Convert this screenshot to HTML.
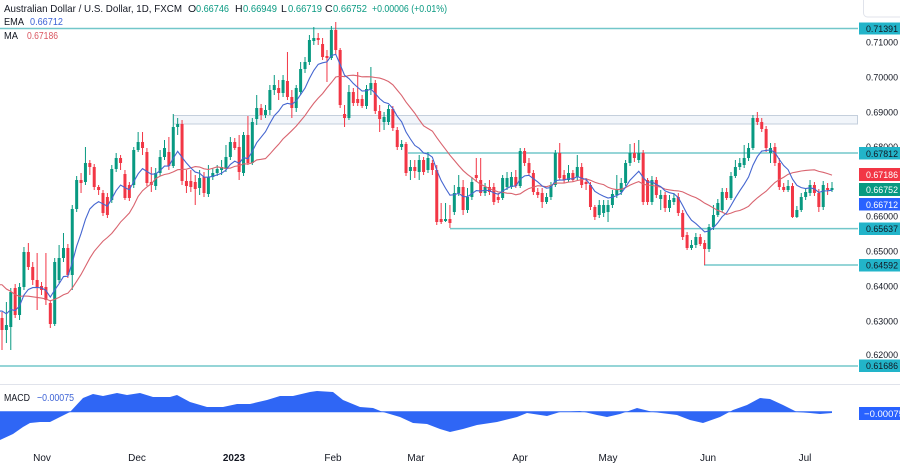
<!DOCTYPE html>
<html>
<head>
<meta charset="utf-8">
<style>
html,body{margin:0;padding:0;background:#fff;}
svg{display:block;}
text{font-family:"Liberation Sans",Arial,sans-serif;}
</style>
</head>
<body>
<svg id="s" xmlns="http://www.w3.org/2000/svg" width="900" height="465" viewBox="0 0 900 465">
<rect x="0" y="0" width="900" height="465" fill="#ffffff"/>
<!-- zone rectangle -->
<rect x="173.5" y="115.5" width="684" height="8.5" fill="#f1f5fa" stroke="#c4cfdc" stroke-width="1"/>
<!-- horizontal levels -->
<g stroke="#72c7ca" stroke-width="1.5">
<line x1="0" y1="28.5" x2="858" y2="28.5"/>
<line x1="408" y1="153" x2="858" y2="153"/>
<line x1="450" y1="228.6" x2="858" y2="228.6"/>
<line x1="704" y1="265" x2="858" y2="265"/>
<line x1="0" y1="366" x2="858" y2="366"/>
</g>
<!-- pane separator -->
<line x1="0" y1="384.5" x2="900" y2="384.5" stroke="#e0e3eb" stroke-width="1"/>
<!-- MACD area -->
<polygon fill="#2f66f5" points="0,440 13,434 23,427 30,423 40,422 50,422 60,417 70,412 83,398 93,394 103,396 117,393 127,395 140,393 153,397 170,397 177,395 190,402 207,407 223,407 237,404 250,404 267,400 280,396 293,396 310,392 317,391 333,392 343,400 360,407 373,408 383,412 400,417 413,423 427,424 440,429 450,432 463,429 477,425 497,422 517,417 527,413 547,416 560,412 580,411 597,415 607,417 620,414 637,408 653,412 677,415 690,420 703,423 720,417 733,410 747,405 760,398 770,399 783,405 797,412 810,413 820,414 832,413 832,411.7 0,411.7"/>
<line x1="0" y1="411.7" x2="832" y2="411.7" stroke="#2f66f5" stroke-width="1"/>
<g id="candles"></g>
<g id="ind"></g>

<!-- legend -->
<g font-size="10.5" fill="#131722">
<text x="4" y="12" textLength="178" lengthAdjust="spacingAndGlyphs">Australian Dollar / U.S. Dollar, 1D, FXCM</text>
<text x="188" y="12">O</text>
<text x="196" y="12" fill="#089981" textLength="33" lengthAdjust="spacingAndGlyphs">0.66746</text>
<text x="235" y="12">H</text>
<text x="243" y="12" fill="#089981" textLength="34" lengthAdjust="spacingAndGlyphs">0.66949</text>
<text x="281" y="12">L</text>
<text x="288" y="12" fill="#089981" textLength="34" lengthAdjust="spacingAndGlyphs">0.66719</text>
<text x="325" y="12">C</text>
<text x="333" y="12" fill="#089981" textLength="34" lengthAdjust="spacingAndGlyphs">0.66752</text>
<text x="372" y="12" fill="#089981" textLength="75" lengthAdjust="spacingAndGlyphs">+0.00006 (+0.01%)</text>
<text x="4" y="25" textLength="20" lengthAdjust="spacingAndGlyphs">EMA</text>
<text x="30" y="25" fill="#3d63d6" textLength="33" lengthAdjust="spacingAndGlyphs">0.66712</text>
<text x="4" y="39" textLength="14" lengthAdjust="spacingAndGlyphs">MA</text>
<text x="27" y="39" fill="#d9545e" textLength="31" lengthAdjust="spacingAndGlyphs">0.67186</text>
<text x="4" y="401" textLength="26" lengthAdjust="spacingAndGlyphs">MACD</text>
<text x="37" y="401" fill="#3d63d6" textLength="37" lengthAdjust="spacingAndGlyphs">−0.00075</text>
</g>

<!-- top-right widget -->
<rect x="863.5" y="-6" width="40" height="23" rx="4" fill="#fff" stroke="#e0e3eb"/>

<!-- right axis plain labels -->
<g font-size="9.5" fill="#131722">
<text x="866" y="45.5" textLength="32" lengthAdjust="spacingAndGlyphs">0.71000</text>
<text x="866" y="80.5" textLength="32" lengthAdjust="spacingAndGlyphs">0.70000</text>
<text x="866" y="115.5" textLength="32" lengthAdjust="spacingAndGlyphs">0.69000</text>
<text x="866" y="150" textLength="32" lengthAdjust="spacingAndGlyphs">0.68000</text>
<text x="866" y="219.5" textLength="32" lengthAdjust="spacingAndGlyphs">0.66000</text>
<text x="866" y="254.5" textLength="32" lengthAdjust="spacingAndGlyphs">0.65000</text>
<text x="866" y="289.5" textLength="32" lengthAdjust="spacingAndGlyphs">0.64000</text>
<text x="866" y="324.5" textLength="32" lengthAdjust="spacingAndGlyphs">0.63000</text>
<text x="866" y="358" textLength="32" lengthAdjust="spacingAndGlyphs">0.62000</text>
</g>
<!-- right axis boxes -->
<g font-size="9.5">
<rect x="859" y="22.5" width="41" height="12" fill="#22b4c9"/>
<text x="866" y="32" fill="#131722" textLength="32" lengthAdjust="spacingAndGlyphs">0.71391</text>
<rect x="859" y="147" width="41" height="12.5" fill="#22b4c9"/>
<text x="866" y="156.8" fill="#131722" textLength="32" lengthAdjust="spacingAndGlyphs">0.67812</text>
<rect x="859" y="168" width="41" height="13" fill="#f23645"/>
<text x="866" y="178" fill="#ffffff" textLength="32" lengthAdjust="spacingAndGlyphs">0.67186</text>
<rect x="859" y="183" width="41" height="13" fill="#089981"/>
<text x="866" y="193" fill="#ffffff" textLength="32" lengthAdjust="spacingAndGlyphs">0.66752</text>
<rect x="859" y="198" width="41" height="12.5" fill="#2962ff"/>
<text x="866" y="207.8" fill="#ffffff" textLength="32" lengthAdjust="spacingAndGlyphs">0.66712</text>
<rect x="859" y="222.5" width="41" height="12.5" fill="#22b4c9"/>
<text x="866" y="232.2" fill="#131722" textLength="32" lengthAdjust="spacingAndGlyphs">0.65637</text>
<rect x="859" y="259" width="41" height="12.5" fill="#22b4c9"/>
<text x="866" y="268.7" fill="#131722" textLength="32" lengthAdjust="spacingAndGlyphs">0.64592</text>
<rect x="859" y="359.5" width="41" height="12.5" fill="#22b4c9"/>
<text x="866" y="369.2" fill="#131722" textLength="32" lengthAdjust="spacingAndGlyphs">0.61686</text>
<rect x="859" y="407" width="41" height="13" fill="#2962ff"/>
<text x="864" y="417" fill="#ffffff" textLength="40" lengthAdjust="spacingAndGlyphs">−0.00075</text>
</g>

<!-- x axis -->
<g font-size="10" fill="#131722" text-anchor="middle">
<text x="42" y="461">Nov</text>
<text x="137" y="461">Dec</text>
<text x="234" y="461" font-weight="bold">2023</text>
<text x="333" y="461">Feb</text>
<text x="416" y="461">Mar</text>
<text x="520" y="461">Apr</text>
<text x="608" y="461">May</text>
<text x="708" y="461">Jun</text>
<text x="805" y="461">Jul</text>
</g>
</svg>
<script>
(function(){
var D=[
[0,318,330,312,350],[1,325,330,302,343],[1,292,327,288,350],[0,288,315,284,318],[1,287,315,283,320],
[1,252,287,247,290],[0,252,267,243,270],[0,267,280,262,285],[0,280,287,253,310],[0,286,290,282,295],
[0,287,300,253,305],[0,303,324,300,328],[1,262,324,258,326],[1,258,280,245,283],[1,248,258,233,262],
[0,248,275,244,278],[1,209,275,205,290],[1,180,209,176,212],[0,180,183,173,193],[1,163,182,147,185],
[0,163,167,160,175],[0,167,187,164,190],[0,187,190,185,195],[0,193,213,190,216],[0,197,215,193,218],
[1,169,200,165,203],[1,158,169,153,172],[0,158,163,155,170],[0,174,198,170,200],[0,185,198,182,201],
[1,150,185,147,188],[1,142,150,132,152],[0,142,148,132,155],[0,152,183,148,186],[0,182,185,167,192],
[1,173,186,168,190],[1,157,173,150,176],[1,148,157,140,160],[0,152,166,137,170],[1,127,166,114,168],
[1,124,127,118,135],[0,124,181,120,185],[0,181,186,170,193],[0,181,187,170,192],[0,182,189,175,205],
[1,178,188,170,195],[0,177,193,172,197],[1,177,194,165,197],[1,173,177,168,180],[1,169,173,165,176],
[1,167,170,160,175],[1,157,169,145,172],[1,142,157,137,160],[0,142,148,138,150],[0,147,172,135,180],
[1,135,173,132,176],[0,135,163,116,165],[1,122,163,118,165],[1,108,119,95,125],[0,108,115,104,120],
[1,110,115,105,118],[1,90,110,85,115],[1,85,90,75,95],[0,88,93,80,100],[1,80,93,75,97],
[0,81,97,52,100],[0,97,108,90,118],[1,88,108,85,112],[1,69,92,62,95],[1,62,69,57,73],
[1,40,62,35,65],[1,38,41,27,45],[0,38,40,33,45],[0,44,57,38,60],[0,56,58,50,82],
[1,30,58,26,60],[0,30,50,22,55],[0,50,105,48,108],[0,114,118,105,127],[1,92,118,85,120],
[0,92,103,88,106],[0,99,103,72,106],[0,99,106,95,108],[1,89,106,85,109],[1,83,89,67,95],
[0,83,111,80,114],[0,111,119,105,132],[1,117,122,112,130],[1,109,122,105,125],[0,109,128,106,131],
[0,130,147,127,150],[1,144,147,140,150],[0,144,173,142,176],[1,167,171,160,180],[0,167,171,160,178],
[1,160,172,155,180],[0,160,172,157,175],[1,158,170,152,173],[0,163,170,160,175],[0,170,222,165,225],
[0,219,222,203,224],[1,219,221,203,222],[0,219,223,205,228],[1,193,212,185,215],[1,187,193,175,196],
[0,187,210,180,215],[1,197,210,188,213],[1,182,197,177,200],[0,175,178,158,182],[0,180,193,158,196],
[1,187,193,183,196],[0,187,192,180,195],[0,187,202,183,205],[0,197,200,193,203],[1,178,198,175,200],
[1,178,187,172,190],[1,177,187,172,189],[0,177,186,170,188],[1,151,186,148,188],[0,151,163,148,166],
[0,163,173,158,176],[0,173,192,170,195],[0,192,195,188,198],[0,193,202,188,208],[1,197,202,193,204],
[1,185,197,182,200],[1,153,185,150,187],[0,153,178,143,180],[0,175,180,170,183],[1,173,180,165,182],
[0,173,180,170,182],[1,167,177,155,180],[0,167,185,163,188],[0,182,184,178,190],[0,185,207,182,210],
[0,207,217,205,220],[1,205,215,200,218],[1,205,213,200,217],[1,205,212,200,222],[1,194,205,190,208],
[1,189,195,175,198],[1,183,192,178,195],[1,163,183,160,186],[1,153,163,144,166],[0,153,158,143,162],
[1,153,160,140,163],[0,153,202,150,205],[0,180,202,178,205],[1,180,202,176,205],[0,180,195,177,198],
[1,195,199,190,210],[0,195,208,192,212],[1,200,208,195,212],[1,198,202,193,205],[0,197,213,193,216],
[0,213,237,210,240],[0,235,248,232,250],[1,245,248,240,250],[1,237,245,233,248],[0,237,244,234,246],
[0,243,249,240,265],[1,227,249,224,252],[1,215,227,205,230],[1,203,215,199,217],[1,192,210,188,212],
[0,192,198,188,200],[1,176,198,172,200],[1,167,176,160,178],[1,163,167,158,170],[1,158,165,145,168],
[1,148,158,143,161],[1,118,148,115,150],[0,118,122,112,125],[0,122,129,118,132],[0,129,148,126,152],
[1,148,153,143,163],[0,147,163,143,166],[0,163,187,158,190],[0,187,190,183,192],[1,186,190,180,192],
[0,186,217,183,218],[1,210,217,206,218],[1,197,210,193,212],[1,192,197,188,200],[1,185,193,180,196],
[0,185,193,182,196],[0,193,207,189,212],[1,185,207,181,210],[0,188,190,183,195],[1,188,190,182,192]
];
var g=document.getElementById("candles");
var n=D.length, step=830/(n-1);
var html="";
var closes=[], xs=[];
for(var i=0;i<n;i++){
  var d=D[i], x=2+i*step, col=d[0]?"#089981":"#f23645";
  var top=d[1], bot=d[2]; if(bot-top<1){bot=top+1;}
  html+='<line x1="'+x.toFixed(2)+'" y1="'+d[3]+'" x2="'+x.toFixed(2)+'" y2="'+d[4]+'" stroke="'+col+'" stroke-width="1"/>';
  html+='<rect x="'+(x-1.5).toFixed(2)+'" y="'+top+'" width="3" height="'+(bot-top)+'" fill="'+col+'"/>';
  closes.push(d[0]?d[1]:d[2]); xs.push(x);
}
g.innerHTML=html;
var seed=[]; for(var k=0;k<20;k++){seed.push(235+k*(90/19));}
var all=seed.concat(closes);
var ema=all[0], a=2/(9+1), emaPts=[], maPts=[];
for(var j=0;j<all.length;j++){
  ema=ema+a*(all[j]-ema);
  if(j>=20){
    var s=0; for(var m=j-19;m<=j;m++){s+=all[m];}
    var bi=j-20;
    emaPts.push(xs[bi].toFixed(2)+","+ema.toFixed(2));
    maPts.push(xs[bi].toFixed(2)+","+(s/20).toFixed(2));
  }
}
var ind=document.getElementById("ind");
ind.innerHTML='<polyline fill="none" stroke="#d9646f" stroke-width="1.1" points="0,'+maPts[0].split(",")[1]+' '+maPts.join(" ")+'"/>'+
 '<polyline fill="none" stroke="#4566d0" stroke-width="1.1" points="0,'+emaPts[0].split(",")[1]+' '+emaPts.join(" ")+'"/>';
})();
</script>
</body>
</html>
